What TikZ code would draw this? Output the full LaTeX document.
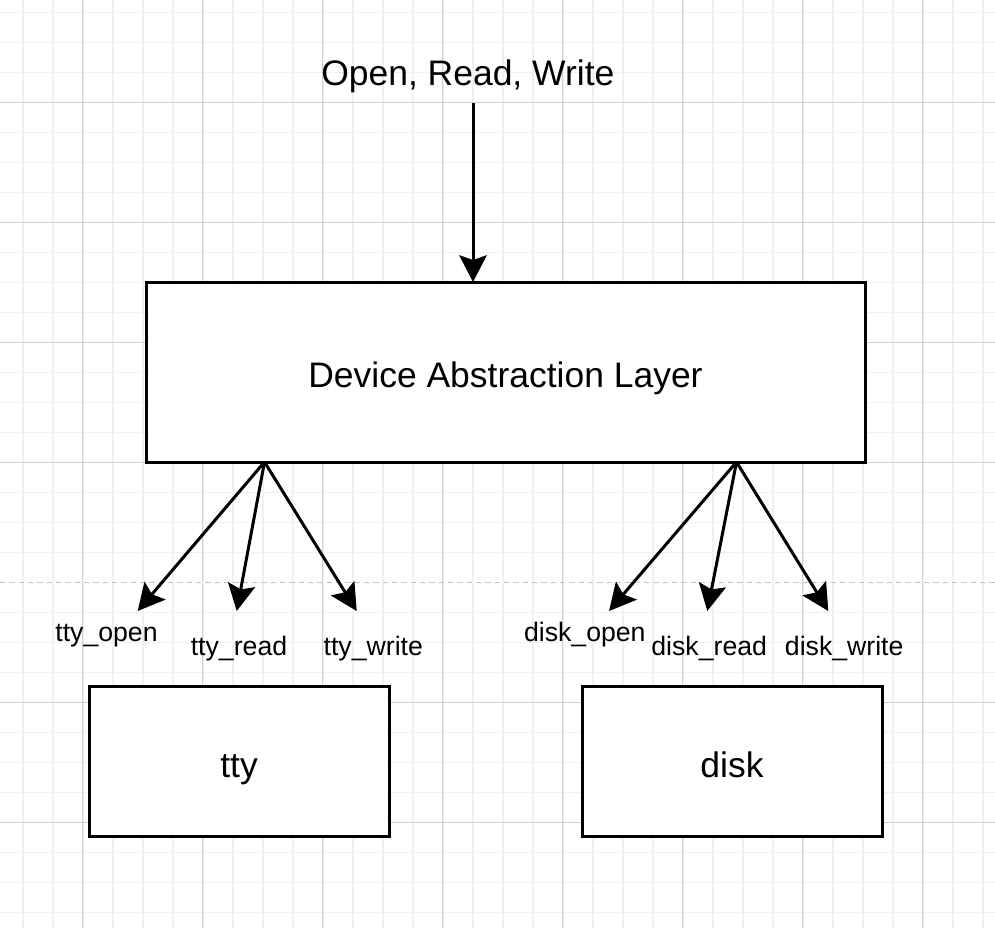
\documentclass[tikz,border=0pt]{standalone}
\usepackage{fontspec}
\setmainfont{Liberation Sans}
\usetikzlibrary{arrows.meta}
\definecolor{gridminor}{HTML}{F1F1F1}
\definecolor{gridmajor}{HTML}{D0D0D0}
\definecolor{dashgray}{HTML}{C4C4C4}
\begin{document}
\begin{tikzpicture}[x=0.75pt,y=-0.75pt,
  box/.style={draw=black,fill=white,line width=2.25pt,minimum width=0pt},
  bigtext/.style={font=\fontsize{26.6pt}{30pt}\selectfont,inner sep=0pt,anchor=base},
  lbl/.style={font=\fontsize{20pt}{24pt}\selectfont,inner sep=0pt,anchor=base},
  conn/.style={line width=2.25pt,-{Stealth[length=20pt,width=20.5pt,inset=3.5pt]}}]
\useasboundingbox (0,0) rectangle (995,928);
\fill[white] (0,0) rectangle (995,928);
% grid
\foreach \i in {0,...,33} {
  \draw[gridminor,line width=1.2pt] ({22.7+30*\i},0) -- ({22.7+30*\i},928);
}
\foreach \i in {0,...,31} {
  \draw[gridminor,line width=1.2pt] (0,{12.3+30*\i}) -- (995,{12.3+30*\i});
}
\foreach \i in {0,...,8} {
  \draw[gridmajor,line width=0.75pt] ({82.7+120*\i},0) -- ({82.7+120*\i},928);
}
\foreach \i in {0,1,2,3,5,6,7} {
  \draw[gridmajor,line width=0.75pt] (0,{102.3+120*\i}) -- (995,{102.3+120*\i});
}
\draw[white,line width=1.2pt] (0,582.5) -- (995,582.5);
\draw[dashgray,line width=0.9pt,dash pattern=on 4pt off 3pt] (0,582.5) -- (995,582.5);

% boxes
\draw[box] (146,282) rectangle (865,462);
\draw[box] (89,686) rectangle (389,836);
\draw[box] (582,686) rectangle (882,836);
\node[bigtext] (dal) at (505.5,387) {Device Abstraction Layer};
\node[bigtext] (tty) at (239,777) {tty};
\node[bigtext] (disk) at (732,777) {disk};
\node[bigtext] (orw) at (467.8,85) {Open, Read, Write};

% labels
\node[lbl] (ttyopen) at (106.5,641.5) {tty\_open};
\node[lbl] (ttyread) at (239,655.5) {tty\_read};
\node[lbl] (ttywrite) at (373.3,655.5) {tty\_write};
\node[lbl] (diskopen) at (584.8,641.5) {disk\_open};
\node[lbl] (diskread) at (709.2,655.5) {disk\_read};
\node[lbl] (diskwrite) at (844.2,655.5) {disk\_write};

% connector coordinates
\coordinate (topsrc) at (473,103);
\coordinate (toptip) at (473,282);
\coordinate (ts) at (264.5,462);
\coordinate (ds) at (736.5,462);
\coordinate (t1) at (137.7,611);
\coordinate (t2) at (236.7,611);
\coordinate (t3) at (356.7,611);
\coordinate (d1) at (609,611);
\coordinate (d2) at (707.3,611);
\coordinate (d3) at (828.3,611);

\draw[conn] (topsrc) -- (toptip);
\draw[conn] (ts) -- (t1);
\draw[conn] (ts) -- (t2);
\draw[conn] (ts) -- (t3);
\draw[conn] (ds) -- (d1);
\draw[conn] (ds) -- (d2);
\draw[conn] (ds) -- (d3);
\end{tikzpicture}
\end{document}
